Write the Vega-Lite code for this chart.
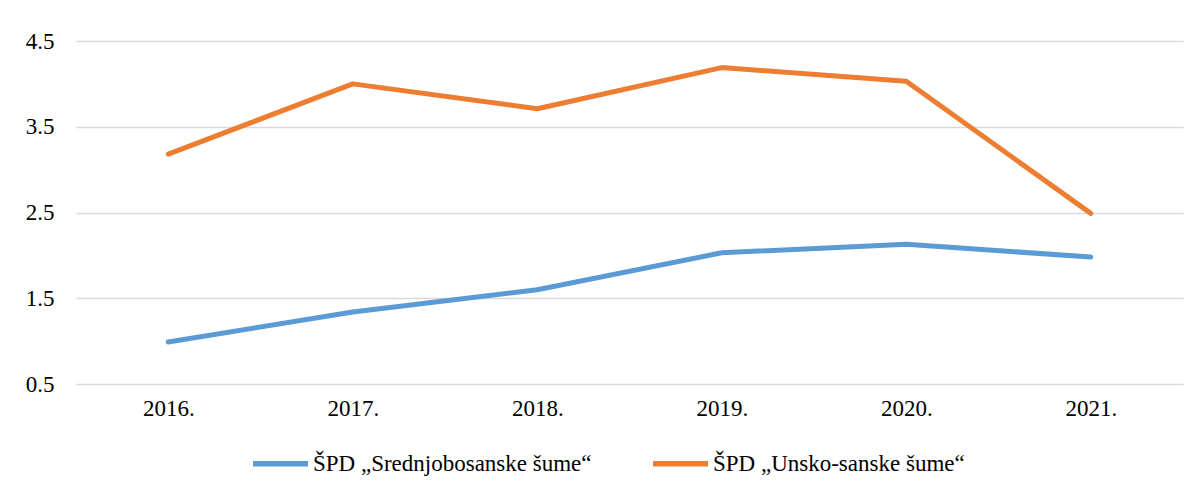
{
  "$schema": "https://vega.github.io/schema/vega-lite/v6.json",
  "width": 1107,
  "height": 343,
  "autosize": {"type": "none"},
  "padding": {"left": 76, "top": 41, "right": 17, "bottom": 111},
  "background": "white",
  "config": {
    "view": {"stroke": null},
    "font": "Liberation Serif",
    "axis": {"labelFont": "Liberation Serif", "labelFontSize": 23, "labelColor": "#000000", "domain": false, "ticks": false, "title": null},
    "legend": {"labelFont": "Liberation Serif", "padding": 0}
  },
  "data": {
    "values": [
      {"year": "2016.", "series": "ŠPD „Srednjobosanske šume“", "value": 0.99},
      {"year": "2017.", "series": "ŠPD „Srednjobosanske šume“", "value": 1.34},
      {"year": "2018.", "series": "ŠPD „Srednjobosanske šume“", "value": 1.60},
      {"year": "2019.", "series": "ŠPD „Srednjobosanske šume“", "value": 2.03},
      {"year": "2020.", "series": "ŠPD „Srednjobosanske šume“", "value": 2.13},
      {"year": "2021.", "series": "ŠPD „Srednjobosanske šume“", "value": 1.98},
      {"year": "2016.", "series": "ŠPD „Unsko-sanske šume“", "value": 3.18},
      {"year": "2017.", "series": "ŠPD „Unsko-sanske šume“", "value": 4.00},
      {"year": "2018.", "series": "ŠPD „Unsko-sanske šume“", "value": 3.71},
      {"year": "2019.", "series": "ŠPD „Unsko-sanske šume“", "value": 4.19},
      {"year": "2020.", "series": "ŠPD „Unsko-sanske šume“", "value": 4.03},
      {"year": "2021.", "series": "ŠPD „Unsko-sanske šume“", "value": 2.49}
    ]
  },
  "mark": {"type": "line", "strokeWidth": 5, "strokeCap": "round", "strokeJoin": "round"},
  "encoding": {
    "x": {
      "field": "year", "type": "ordinal",
      "scale": {"type": "point", "padding": 0.5},
      "axis": {"labelAngle": 0, "labelPadding": 13, "grid": false}
    },
    "y": {
      "field": "value", "type": "quantitative",
      "scale": {"domain": [0.5, 4.5], "nice": false, "zero": false},
      "axis": {"values": [0.5, 1.5, 2.5, 3.5, 4.5], "format": ".1f", "labelPadding": 22, "grid": true, "gridColor": "#D9D9D9", "gridWidth": 1.5}
    },
    "color": {
      "field": "series", "type": "nominal",
      "scale": {"domain": ["ŠPD „Srednjobosanske šume“", "ŠPD „Unsko-sanske šume“"], "range": ["#5B9BD5", "#ED7D31"]},
      "legend": {
        "title": null, "orient": "none", "direction": "horizontal",
        "legendX": 174, "legendY": 392,
        "symbolType": "stroke", "symbolStrokeWidth": 5.5, "symbolSize": 3025,
        "labelFontSize": 23, "labelColor": "#000000",
        "labelOffset": 2, "columnPadding": 50, "labelLimit": 500
      }
    }
  }
}
